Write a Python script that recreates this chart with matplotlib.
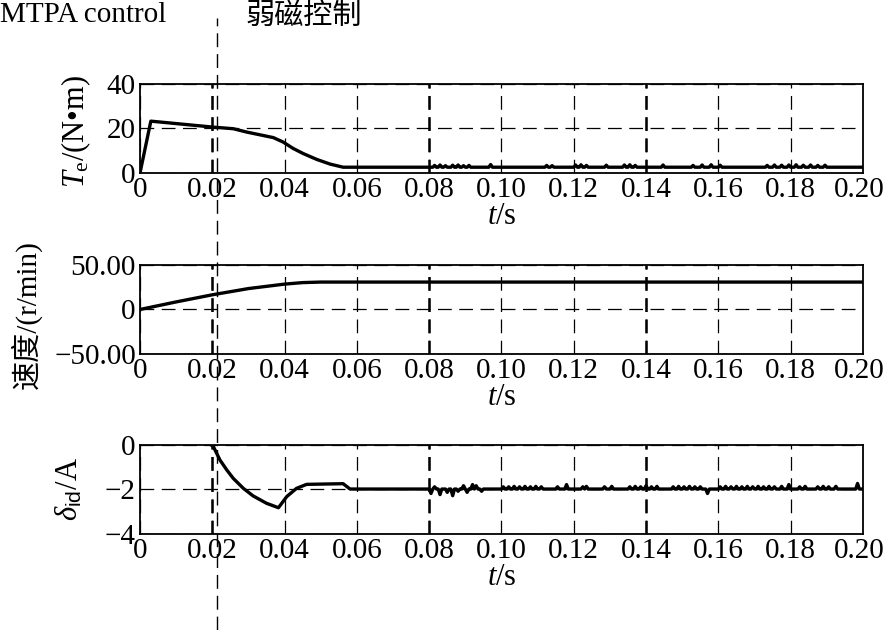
import matplotlib
matplotlib.use("Agg")
import matplotlib.pyplot as plt
from matplotlib.transforms import ScaledTranslation

plt.rcParams["font.family"] = ["Liberation Serif", "Noto Sans CJK SC"]
plt.rcParams["mathtext.fontset"] = "custom"
plt.rcParams["mathtext.rm"] = "Liberation Serif"
plt.rcParams["mathtext.it"] = "Liberation Serif:italic"
plt.rcParams["mathtext.sf"] = "Liberation Sans"

# -------------------------------------------------
# Data
# -------------------------------------------------

x_ticks = [0, 0.02, 0.04, 0.06, 0.08, 0.10, 0.12, 0.14, 0.16, 0.18, 0.20]
x_tick_labels = ["0", "0.02", "0.04", "0.06", "0.08", "0.10",
                 "0.12", "0.14", "0.16", "0.18", "0.20"]
bold_grid = [0.02, 0.08, 0.14]

# electromagnetic torque Te
te_t = [0, 0.003, 0.0203, 0.0258, 0.0295, 0.0369, 0.0396, 0.0424,
        0.0452, 0.0489, 0.0526, 0.0562, 0.2]
te_v = [0, 23.3, 20.6, 19.9, 18.4, 15.9, 13.9, 11.0,
        8.7, 6.1, 4.0, 2.6, 2.6]
te_bump_t = [0.0815, 0.083, 0.0845, 0.0865, 0.088, 0.0895, 0.091, 0.097,
             0.1125, 0.114, 0.1205, 0.122, 0.1235, 0.129, 0.134, 0.1355,
             0.137, 0.1447, 0.153, 0.1555, 0.158, 0.1605, 0.1735, 0.1755,
             0.1775, 0.1795, 0.1815, 0.1835, 0.1855, 0.1875, 0.1895]
te_bump_h = [0.8, 1.0, 0.7, 0.9, 1.0, 0.7, 0.8, 1.2,
             0.8, 0.7, 1.0, 1.1, 0.8, 0.9, 1.0, 1.1,
             0.8, 1.0, 0.8, 1.0, 1.1, 0.9, 0.8, 1.0,
             0.9, 1.0, 1.1, 0.9, 1.0, 0.8, 0.9]
te_ticks = [0, 20, 40]
te_tick_labels = ["0", "20", "40"]

# speed
spd_t = [0, 0.01, 0.02, 0.03, 0.04, 0.045, 0.05, 0.2]
spd_v = [0, 8.5, 16.5, 23.5, 28.5, 30.2, 30.8, 30.8]
spd_ticks = [-50, 0, 50]
spd_tick_labels = ["\u221250.00", "0", "50.00"]

# d-axis current offset
id_t = [0.0197, 0.0203, 0.0221, 0.024, 0.0258, 0.0286, 0.0313, 0.035,
        0.0383, 0.0406, 0.0433, 0.0461, 0.0562, 0.0581, 0.2]
id_v = [0, -0.07, -0.67, -1.12, -1.5, -1.95, -2.29, -2.62,
        -2.82, -2.32, -1.95, -1.77, -1.74, -1.98, -1.98]
id_bump_t = [0.0805, 0.0815, 0.083, 0.085, 0.0865, 0.088, 0.0895, 0.0905,
             0.092, 0.093, 0.0945, 0.1005, 0.102, 0.1035, 0.105, 0.1065,
             0.108, 0.1095, 0.111, 0.1155, 0.118, 0.1225, 0.1235, 0.1285,
             0.1305, 0.1355, 0.137, 0.1385, 0.14, 0.1415, 0.143, 0.1475,
             0.149, 0.1505, 0.152, 0.1535, 0.155, 0.157, 0.1605, 0.162,
             0.1635, 0.165, 0.1665, 0.168, 0.1695, 0.171, 0.1725, 0.174,
             0.1755, 0.1775, 0.1795, 0.1825, 0.184, 0.1875, 0.189, 0.1905,
             0.1925, 0.1985]
id_bump_h = [-0.2, 0.1, -0.25, -0.15, -0.3, -0.1, 0.15, -0.15,
             0.2, 0.15, -0.1, 0.1, 0.1, 0.12, 0.1, 0.12,
             0.1, 0.12, 0.1, 0.1, 0.2, 0.1, 0.12, 0.1,
             0.12, 0.1, 0.12, 0.1, 0.15, 0.1, 0.12, 0.1,
             0.12, 0.1, 0.12, 0.1, 0.1, -0.2, 0.1, 0.12,
             0.1, 0.12, 0.1, 0.12, 0.1, 0.12, 0.1, 0.12,
             0.1, 0.12, 0.2, 0.1, 0.12, 0.1, 0.12, 0.1,
             0.12, 0.25]
id_ticks = [-4, -2, 0]
id_tick_labels = ["\u22124", "\u22122", "0"]


def add_bumps(t, v, bump_t, bump_h, half_width=0.0005):
    # insert small ripples on the flat tail of a trace
    base = v[-1]
    pts = list(zip(t, v))
    for c, h in zip(bump_t, bump_h):
        pts += [(c - half_width, base), (c, base + h), (c + half_width, base)]
    pts.sort()
    return [p[0] for p in pts], [p[1] for p in pts]


te_t_all, te_v_all = add_bumps(te_t, te_v, te_bump_t, te_bump_h)
id_t_all, id_v_all = add_bumps(id_t, id_v, id_bump_t, id_bump_h)


# -------------------------------------------------
# Figure
# -------------------------------------------------

fig = plt.figure(figsize=(8.86, 6.3), dpi=100)

panels = [
    (0.7254, te_t_all, te_v_all, (0, 40), te_ticks, te_tick_labels),
    (0.4381, spd_t, spd_v, (-50, 50), spd_ticks, spd_tick_labels),
    (0.1524, id_t_all, id_v_all, (-4, 0), id_ticks, id_tick_labels),
]

for bottom, t, v, ylim, yt, ytl in panels:
    ax = fig.add_axes([0.158, bottom, 0.816, 0.1413])
    ax.plot(t, v, color="black", linewidth=2.4, solid_joinstyle="round")
    ax.set_xlim(0, 0.2)
    ax.set_ylim(*ylim)
    ax.set_xticks(x_ticks)
    ax.set_xticklabels(x_tick_labels)
    ax.set_yticks(yt)
    ax.set_yticklabels(ytl)
    ax.tick_params(length=0, labelsize=21, pad=3)
    ax.tick_params(axis="x", pad=3)
    # keep the last x label inside the figure edge
    last = ax.get_xticklabels()[-1]
    last.set_transform(last.get_transform()
                       + ScaledTranslation(-3 / 72, 0, fig.dpi_scale_trans))
    ax.grid(True, color="black", linestyle=(0, (11, 6)), linewidth=0.9)
    for xg in bold_grid:
        ax.axvline(xg, color="black", linestyle=(0, (5.5, 3)), linewidth=1.8)
    for s in ax.spines.values():
        s.set_linewidth(1.3)
    ax.set_xlabel("$t$/s", fontsize=22, labelpad=-1)

# y labels
fig.text(0.086, 0.792, "$T_{\\mathrm{e}}$/(N\u2022m)", rotation=90,
         ha="center", va="center", fontsize=22)
fig.text(0.030, 0.50, "速度/(r/min)", rotation=90,
         ha="center", va="center", fontsize=21)
fig.text(0.078, 0.224, r"$\delta_{\mathsf{id}}$/A", rotation=90,
         ha="center", va="center", fontsize=22)

# control mode annotations
fig.text(0.0, 0.997, "MTPA control", ha="left", va="top", fontsize=21)
fig.text(0.277, 0.995, "弱磁控制", ha="left", va="top", fontsize=21)
fig.add_artist(plt.Line2D([0.245, 0.245], [0.0, 0.971], color="black",
                          linewidth=1.0, linestyle=(0, (10, 5))))

plt.savefig("out.png", dpi=100)
plt.close()
